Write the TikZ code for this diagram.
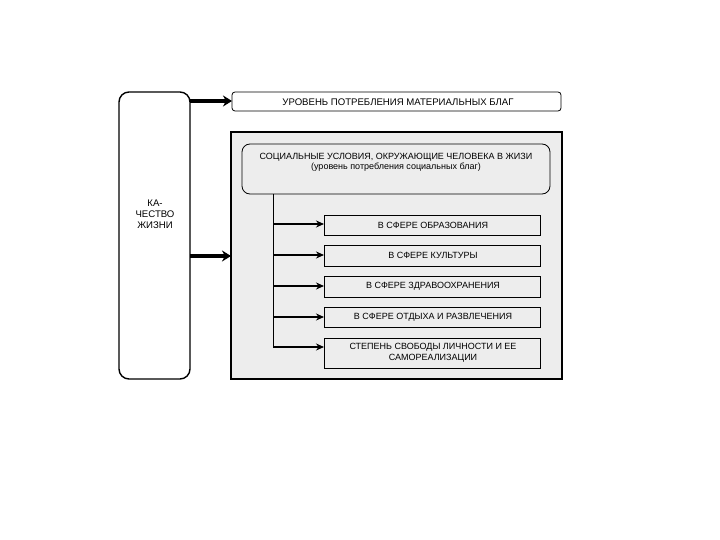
\documentclass[tikz,border=0pt]{standalone}
\usepackage{fontspec}
\setmainfont{Liberation Sans}
\usetikzlibrary{arrows.meta}
\begin{document}
\begin{tikzpicture}[x=1pt,y=-1pt,
  lbl/.style={font=\fontsize{9}{10.5}\selectfont, align=center, inner sep=0pt},
  sbox/.style={draw, line width=0.8pt, fill=gray!14},
  thickarr/.style={line width=3.5pt, -{Stealth[length=9pt,width=11pt]}},
  thinarr/.style={line width=1.1pt, -{Stealth[length=8pt,width=7pt]}}]
\useasboundingbox (0,0) rectangle (720,540);
% left box
\draw[line width=1.4pt, rounded corners=10pt, fill=white] (119,92) rectangle (190,379);
\node[lbl, font=\fontsize{9.6}{11}\selectfont] (q) at (155,214) {КА-\\ЧЕСТВО\\ЖИЗНИ};
\coordinate (qa) at (190,101);
\coordinate (qb) at (190,256);
% top box
\draw[line width=0.8pt, rounded corners=3pt, fill=white] (232,92) rectangle (561,111);
\node[lbl, font=\fontsize{9.6}{11}\selectfont] (top) at (398,102) {УРОВЕНЬ ПОТРЕБЛЕНИЯ МАТЕРИАЛЬНЫХ БЛАГ};
\coordinate (topw) at (232,101);
% big box
\draw[line width=2pt, fill=gray!14] (231,132) rectangle (562,379);
\coordinate (bigw) at (231,256);
% inner rounded box
\draw[line width=0.8pt, rounded corners=8pt, fill=gray!14] (242,144) rectangle (550,194);
\node[lbl, font=\fontsize{9}{10}\selectfont] (soc) at (396,162) {СОЦИАЛЬНЫЕ УСЛОВИЯ, ОКРУЖАЮЩИЕ ЧЕЛОВЕКА В ЖИЗИ\\(уровень потребления социальных благ)};
\draw[thickarr] (qa) -- (topw);
\draw[thickarr] (qb) -- (bigw);
% vertical line
\coordinate (vt) at (273,194);
\coordinate (vb) at (273,347);
\draw[line width=0.8pt] (vt) -- (vb);
% small boxes
\draw[sbox] (324,215) rectangle (540,235);
\node[lbl] (s1) at (433,225) {В СФЕРЕ ОБРАЗОВАНИЯ};
\draw[sbox] (324,245) rectangle (540,266);
\node[lbl] (s2) at (433,255.5) {В СФЕРЕ КУЛЬТУРЫ};
\draw[sbox] (324,276) rectangle (540,297);
\node[lbl] (s3) at (433,286.5) {В СФЕРЕ ЗДРАВООХРАНЕНИЯ};
\draw[sbox] (324,307) rectangle (540,327);
\node[lbl] (s4) at (433,317) {В СФЕРЕ ОТДЫХА И РАЗВЛЕЧЕНИЯ};
\draw[sbox] (324,338) rectangle (540,368);
\node[lbl] (s5) at (433,353) {СТЕПЕНЬ СВОБОДЫ ЛИЧНОСТИ И ЕЕ\\САМОРЕАЛИЗАЦИИ};
\foreach \yy in {224,255,286,317,347}{
  \draw[thinarr] (273,\yy) -- (324,\yy);
}
\end{tikzpicture}
\end{document}
